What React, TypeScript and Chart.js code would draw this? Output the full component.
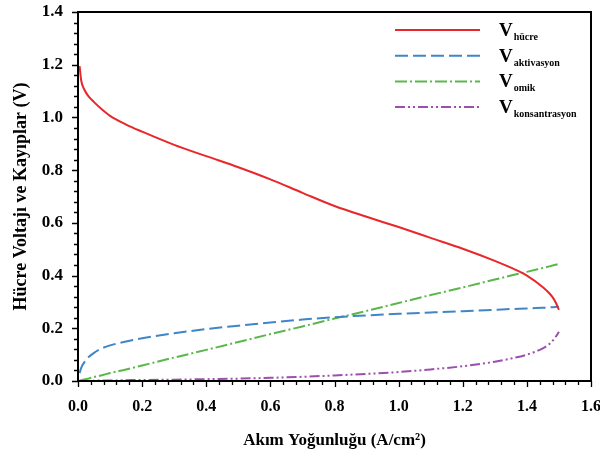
import React, { useEffect, useRef } from 'react';
import { Chart, registerables } from 'chart.js';

Chart.register(...registerables);

// Current density (A/cm²)
const currentDensity = [0.005, 0.01, 0.02, 0.035, 0.05, 0.075, 0.1, 0.15, 0.2, 0.3, 0.4, 0.5, 0.6, 0.7, 0.8, 0.9, 1.0, 1.1, 1.2, 1.3, 1.35, 1.4, 1.45, 1.47, 1.48, 1.49, 1.5];
const vHucre = [1.195, 1.14, 1.105, 1.077, 1.058, 1.03, 1.006, 0.973, 0.946, 0.896, 0.853, 0.811, 0.765, 0.714, 0.664, 0.623, 0.584, 0.543, 0.502, 0.456, 0.43, 0.4, 0.356, 0.333, 0.318, 0.298, 0.27];
const vAktivasyon = [0.03, 0.05, 0.072, 0.093, 0.107, 0.124, 0.135, 0.15, 0.162, 0.181, 0.197, 0.21, 0.222, 0.233, 0.242, 0.249, 0.255, 0.26, 0.265, 0.27, 0.273, 0.275, 0.278, 0.279, 0.28, 0.281, 0.282];
const vOmik = [0.001, 0.003, 0.006, 0.01, 0.015, 0.022, 0.03, 0.044, 0.059, 0.089, 0.118, 0.148, 0.178, 0.207, 0.237, 0.266, 0.296, 0.326, 0.355, 0.385, 0.4, 0.414, 0.429, 0.435, 0.438, 0.441, 0.444];
const vKonsantrasyon = [0, 0, 0.001, 0.001, 0.001, 0.002, 0.002, 0.003, 0.004, 0.005, 0.007, 0.009, 0.012, 0.016, 0.021, 0.027, 0.034, 0.044, 0.056, 0.073, 0.085, 0.1, 0.124, 0.14, 0.152, 0.168, 0.187];

const seriesSubscripts = ['hücre', 'aktivasyon', 'omik', 'konsantrasyon'];
const seriesColors = ['#e8272b', '#3f86c6', '#5ab74a', '#9c4fae'];
const seriesDashes: number[][] = [[], [13, 5], [12, 3, 2, 3], [10, 3, 2, 3, 2, 3]];

const xTitle = 'Akım Yoğunluğu (A/cm²)';
const yTitle = 'Hücre Voltajı ve Kayıplar (V)';

const FONT = '"Liberation Serif", "Times New Roman", serif';

const toPoints = (ys: number[]) => ys.map((y, i) => ({ x: currentDensity[i], y }));

const isMajor = (v: number) => Math.abs(v / 0.2 - Math.round(v / 0.2)) < 1e-6;

const legendPlugin = {
  id: 'customLegend',
  afterDatasetsDraw(chart: any) {
    const ctx = chart.ctx as CanvasRenderingContext2D;
    const area = chart.chartArea;
    chart.data.datasets.forEach((ds: any, i: number) => {
      const y = area.top + 18 + i * 25.7;
      ctx.save();
      ctx.strokeStyle = ds.borderColor;
      ctx.lineWidth = 2;
      ctx.setLineDash(ds.borderDash || []);
      ctx.beginPath();
      ctx.moveTo(area.left + 317, y);
      ctx.lineTo(area.left + 402, y);
      ctx.stroke();
      ctx.setLineDash([]);
      ctx.fillStyle = '#000';
      ctx.textBaseline = 'alphabetic';
      ctx.textAlign = 'left';
      ctx.font = `bold 19px ${FONT}`;
      const vx = area.left + 421;
      ctx.fillText('V', vx, y + 6);
      const vw = ctx.measureText('V').width;
      ctx.font = `bold 10px ${FONT}`;
      ctx.fillText(seriesSubscripts[i], vx + vw + 1, y + 10);
      ctx.restore();
    });
  },
};

const framePlugin = {
  id: 'frame',
  afterDraw(chart: any) {
    const ctx = chart.ctx as CanvasRenderingContext2D;
    const a = chart.chartArea;
    const xs = chart.scales.x;
    const ys = chart.scales.y;
    ctx.save();
    ctx.strokeStyle = '#000';
    ctx.lineWidth = 1.3;
    ctx.beginPath();
    xs.ticks.forEach((t: any) => {
      const px = Math.round(xs.getPixelForValue(t.value)) + 0.5;
      const len = isMajor(t.value) ? 6 : 4;
      ctx.moveTo(px, a.bottom);
      ctx.lineTo(px, a.bottom + len);
    });
    ys.ticks.forEach((t: any) => {
      const py = Math.round(ys.getPixelForValue(t.value)) + 0.5;
      const len = isMajor(t.value) ? 6 : 4;
      ctx.moveTo(a.left, py);
      ctx.lineTo(a.left - len, py);
    });
    ctx.stroke();
    ctx.lineWidth = 2;
    ctx.strokeRect(a.left, a.top, a.right - a.left, a.bottom - a.top);
    ctx.restore();
  },
};

export default function App() {
  const ref = useRef<HTMLCanvasElement | null>(null);

  useEffect(() => {
    document.body.style.margin = '0';
    const canvas = ref.current;
    if (!canvas) return;
    const datasets = [vHucre, vAktivasyon, vOmik, vKonsantrasyon].map((ys, i) => ({
      label: seriesSubscripts[i],
      data: toPoints(ys),
      borderColor: seriesColors[i],
      backgroundColor: seriesColors[i],
      borderDash: seriesDashes[i],
      borderWidth: 2,
      pointRadius: 0,
      fill: false,
      cubicInterpolationMode: 'monotone' as const,
    }));

    const chart = new Chart(canvas, {
      type: 'line',
      data: { datasets },
      options: {
        responsive: false,
        animation: false,
        layout: { padding: { left: 0, top: 12, right: 9, bottom: 0 } },
        plugins: { legend: { display: false }, tooltip: { enabled: false } },
        scales: {
          x: {
            type: 'linear',
            min: 0,
            max: 1.6,
            afterFit: (s: any) => {
              s.height = 74;
              s.paddingLeft = 0;
              s.paddingRight = 0;
            },
            border: { display: true, color: '#000', width: 2 },
            grid: { drawOnChartArea: false, drawTicks: true, tickLength: 4, color: 'rgba(0,0,0,0)', lineWidth: 1 },
            ticks: {
              stepSize: 0.04,
              autoSkip: false,
              maxRotation: 0,
              minRotation: 0,
              padding: 12,
              color: '#000',
              font: { family: FONT, size: 16, weight: 'bold' },
              callback: (v: any) => (isMajor(Number(v)) ? Number(v).toFixed(1) : ''),
            },
            title: {
              display: true,
              text: xTitle,
              color: '#000',
              font: { family: FONT, size: 17, weight: 'bold' },
              padding: { top: 0, bottom: 4 },
            },
          },
          y: {
            type: 'linear',
            min: 0,
            max: 1.4,
            afterFit: (s: any) => {
              s.width = 78;
              s.paddingTop = 0;
              s.paddingBottom = 0;
            },
            border: { display: true, color: '#000', width: 2 },
            grid: { drawOnChartArea: false, drawTicks: true, tickLength: 4, color: 'rgba(0,0,0,0)', lineWidth: 1 },
            ticks: {
              stepSize: 0.04,
              autoSkip: false,
              padding: 11,
              color: '#000',
              font: { family: FONT, size: 17, weight: 'bold' },
              callback: (v: any) => (isMajor(Number(v)) ? Number(v).toFixed(1) : ''),
            },
            title: {
              display: true,
              text: yTitle,
              color: '#000',
              font: { family: FONT, size: 18, weight: 'bold' },
              padding: { top: 11, bottom: 0 },
            },
          },
        },
      },
      plugins: [legendPlugin, framePlugin],
    });
    return () => chart.destroy();
  }, []);

  return <canvas ref={ref} width={600} height={455} style={{ display: 'block' }} />;
}
